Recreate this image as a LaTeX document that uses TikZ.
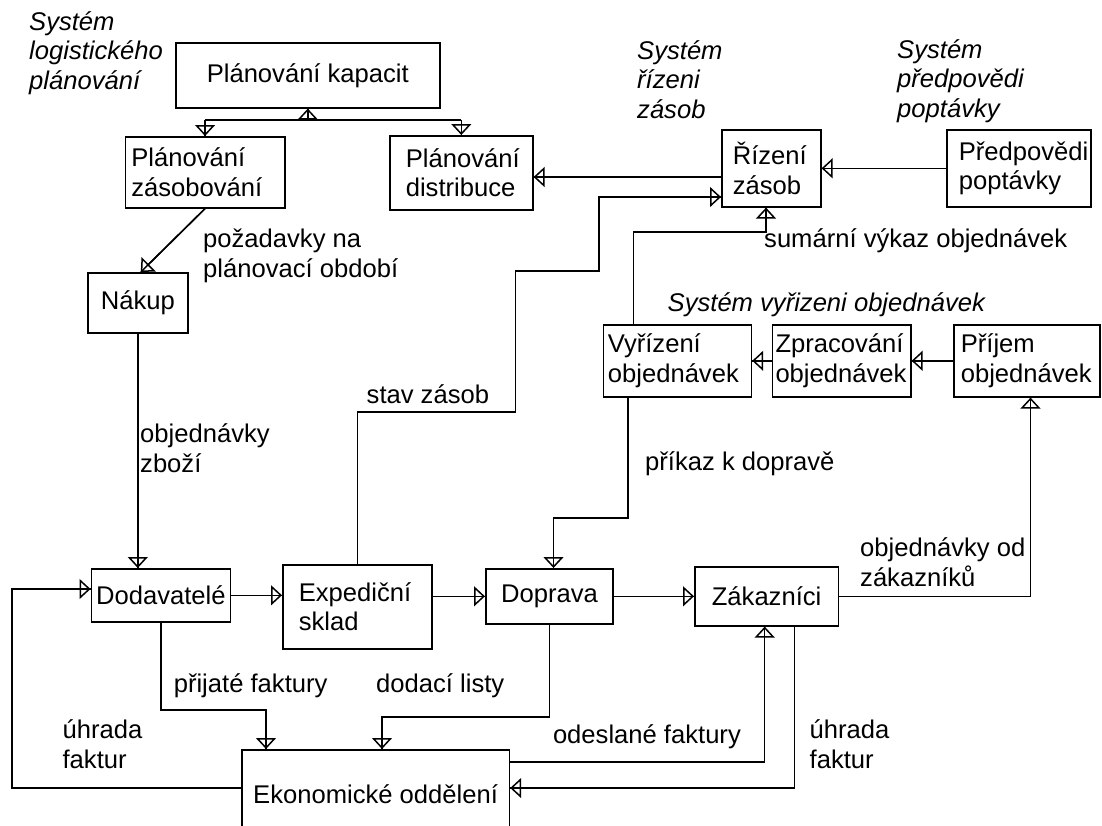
\documentclass[tikz,border=0pt]{standalone}
\usepackage{fontspec}
\setmainfont{Liberation Sans}
\usetikzlibrary{arrows.meta}
\begin{document}
\begin{tikzpicture}[x=1pt,y=-1pt,
  every node/.style={font=\fontsize{25.6}{29.5}\selectfont},
  box/.style={draw, line width=1.6pt, inner ysep=0pt, anchor=north west},
  lbl/.style={anchor=base west, inner sep=0pt, align=left},
  ital/.style={lbl, font=\fontsize{25.6}{29.5}\selectfont\itshape},
  line/.style={line width=1.5pt},
  arr/.style={line width=1.5pt, -{Triangle[open,length=11pt,width=20pt,line width=1.5pt]}, preaction={draw, line width=1.5pt, arrows=-}}
]
\useasboundingbox (0,0) rectangle (1102,825);
\fill[white] (0,0) rectangle (1102,825);

% boxes
\node[box, minimum width=264pt, minimum height=65pt] (pk) at (175,42) {Plánování kapacit};
\node[box, minimum width=159.5pt, minimum height=71pt, inner xsep=6pt, text width=147.5pt, align=left] (pz) at (124.5,136) {Plánování\\zásobování};
\node[box, minimum width=143pt, minimum height=74pt, inner xsep=16pt, text width=111pt, align=left] (pd) at (389,135) {Plánování\\distribuce};
\node[box, minimum width=99pt, minimum height=77pt, inner xsep=11pt, text width=77pt, align=left] (rz) at (721,129) {Řízení\\zásob};
\node[box, minimum width=144pt, minimum height=77pt, inner xsep=12pt, text width=120pt, align=left] (pp) at (946,129) {Předpovědi\\poptávky};
\node[box, minimum width=148pt, minimum height=72pt, inner xsep=4.5pt, text width=139pt, align=left] (vy) at (602.6,324) {Vyřízení\\objednávek};
\node[box, minimum width=138.3pt, minimum height=72pt, inner xsep=3pt, text width=132.3pt, align=left] (zp) at (771.7,324) {Zpracování\\objednávek};
\node[box, minimum width=146pt, minimum height=72pt, inner xsep=7pt, text width=132pt, align=left] (pj) at (953,324) {Příjem\\objednávek};
\node[box, minimum width=100pt, minimum height=60pt] (nk) at (87,272) {Nákup};
\node[box, minimum width=139.2pt, minimum height=53pt, inner xsep=1pt] (dv) at (90.5,568) {Dodavatelé};
\node[box, minimum width=149pt, minimum height=84pt, inner xsep=16pt, text width=117pt, align=left] (ex) at (282,564) {Expediční\\sklad};
\node[box, minimum width=127.4pt, minimum height=55pt] (dp) at (485,568) {Doprava};
\node[box, minimum width=143.6pt, minimum height=59pt] (zk) at (694,566) {Zákazníci};
\node[box, minimum width=267.6pt, minimum height=88pt] (ek) at (241,749) {Ekonomické oddělení};

% labels (anchor = baseline of last line)
\node[ital] (t1) at (29,89) {Systém\\logistického\\plánování};
\node[ital] (t2) at (637,118) {Systém\\řízeni\\zásob};
\node[ital] (t3) at (897,117) {Systém\\předpovědi\\poptávky};
\node[ital] (t4) at (667.5,311) {Systém vyřizeni objednávek};
\node[lbl] (l1) at (203,277) {požadavky na\\plánovací období};
\node[lbl] (l2) at (140,472) {objednávky\\zboží};
\node[lbl] (l3) at (366.5,403) {stav zásob};
\node[lbl] (l4) at (764,247) {sumární výkaz objednávek};
\node[lbl] (l5) at (645,470) {příkaz k dopravě};
\node[lbl] (l6) at (860,586) {objednávky od\\zákazníků};
\node[lbl] (l7) at (173.6,692) {přijaté faktury};
\node[lbl] (l8) at (376,692) {dodací listy};
\node[lbl] (l9) at (62.4,768) {úhrada\\faktur};
\node[lbl] (l10) at (552.8,743) {odeslané faktury};
\node[lbl] (l11) at (809.5,768) {úhrada\\faktur};

% helper coordinates
\coordinate (jy) at (0,120);
\coordinate (y177) at (0,177);
\coordinate (y197) at (0,197);
\coordinate (s1) at (515.6,412);
\coordinate (s2) at (599,271);
\coordinate (u1) at (633.5,232);
\coordinate (u2) at (766,232);
\coordinate (p1) at (628,518);
\coordinate (p2) at (553.5,518);
\coordinate (o1) at (1030.5,594);
\coordinate (f1) at (266,710);
\coordinate (d1) at (382,717);
\coordinate (h1) at (12,788);
\coordinate (h2) at (12,589);
\coordinate (e1) at (764.7,762);
\coordinate (g1) at (794.5,788);

% connectors
\draw[line] (pz.north |- jy) -- (pd.north |- jy);
\draw[arr] (pk.south |- jy) -- (pk.south);
\draw[arr] (pz.north |- jy) -- (pz.north);
\draw[arr] (pd.north |- jy) -- (pd.north);
\draw[arr] (pz.south) -- ([xshift=3pt]nk.north);
\draw[arr] (nk.south) -- (nk.south |- dv.north);
\draw[arr] (rz.west |- y177) -- (pd.east |- y177);
\draw[arr] (pp.west) -- (pp.west -| rz.east);
\draw[arr] (ex.north) |- (s1) |- (s2) |- (rz.west |- y197);
\draw[arr] (u1 |- vy.north) -- (u1) -- (u2) -- (u2 |- rz.south);
\draw[arr] (pj.west) -- (zp.east);
\draw[arr] (zp.west) -- (vy.east);
\draw[arr] (p1 |- vy.south) -- (p1) -- (p2) -- (p2 |- dp.north);
\draw[arr] (dv.east) -- (dv.east -| ex.west);
\draw[arr] (dp.west -| ex.east) -- (dp.west);
\draw[arr] (dp.east) -- (dp.east -| zk.west);
\draw[arr] (zk.east) -| (o1 |- pj.south);
\draw[arr] (dv.south) |- (f1) -- (f1 |- ek.north);
\draw[arr] (dp.south) |- (d1) -- (d1 |- ek.north);
\draw[arr] (ek.west |- h1) -- (h1) -- (h2) -- (h2 -| dv.west);
\draw[arr] (ek.east |- e1) -- (e1) -- (e1 |- zk.south);
\draw[arr] (g1 |- zk.south) -- (g1) -- (g1 -| ek.east);
\end{tikzpicture}
\end{document}
